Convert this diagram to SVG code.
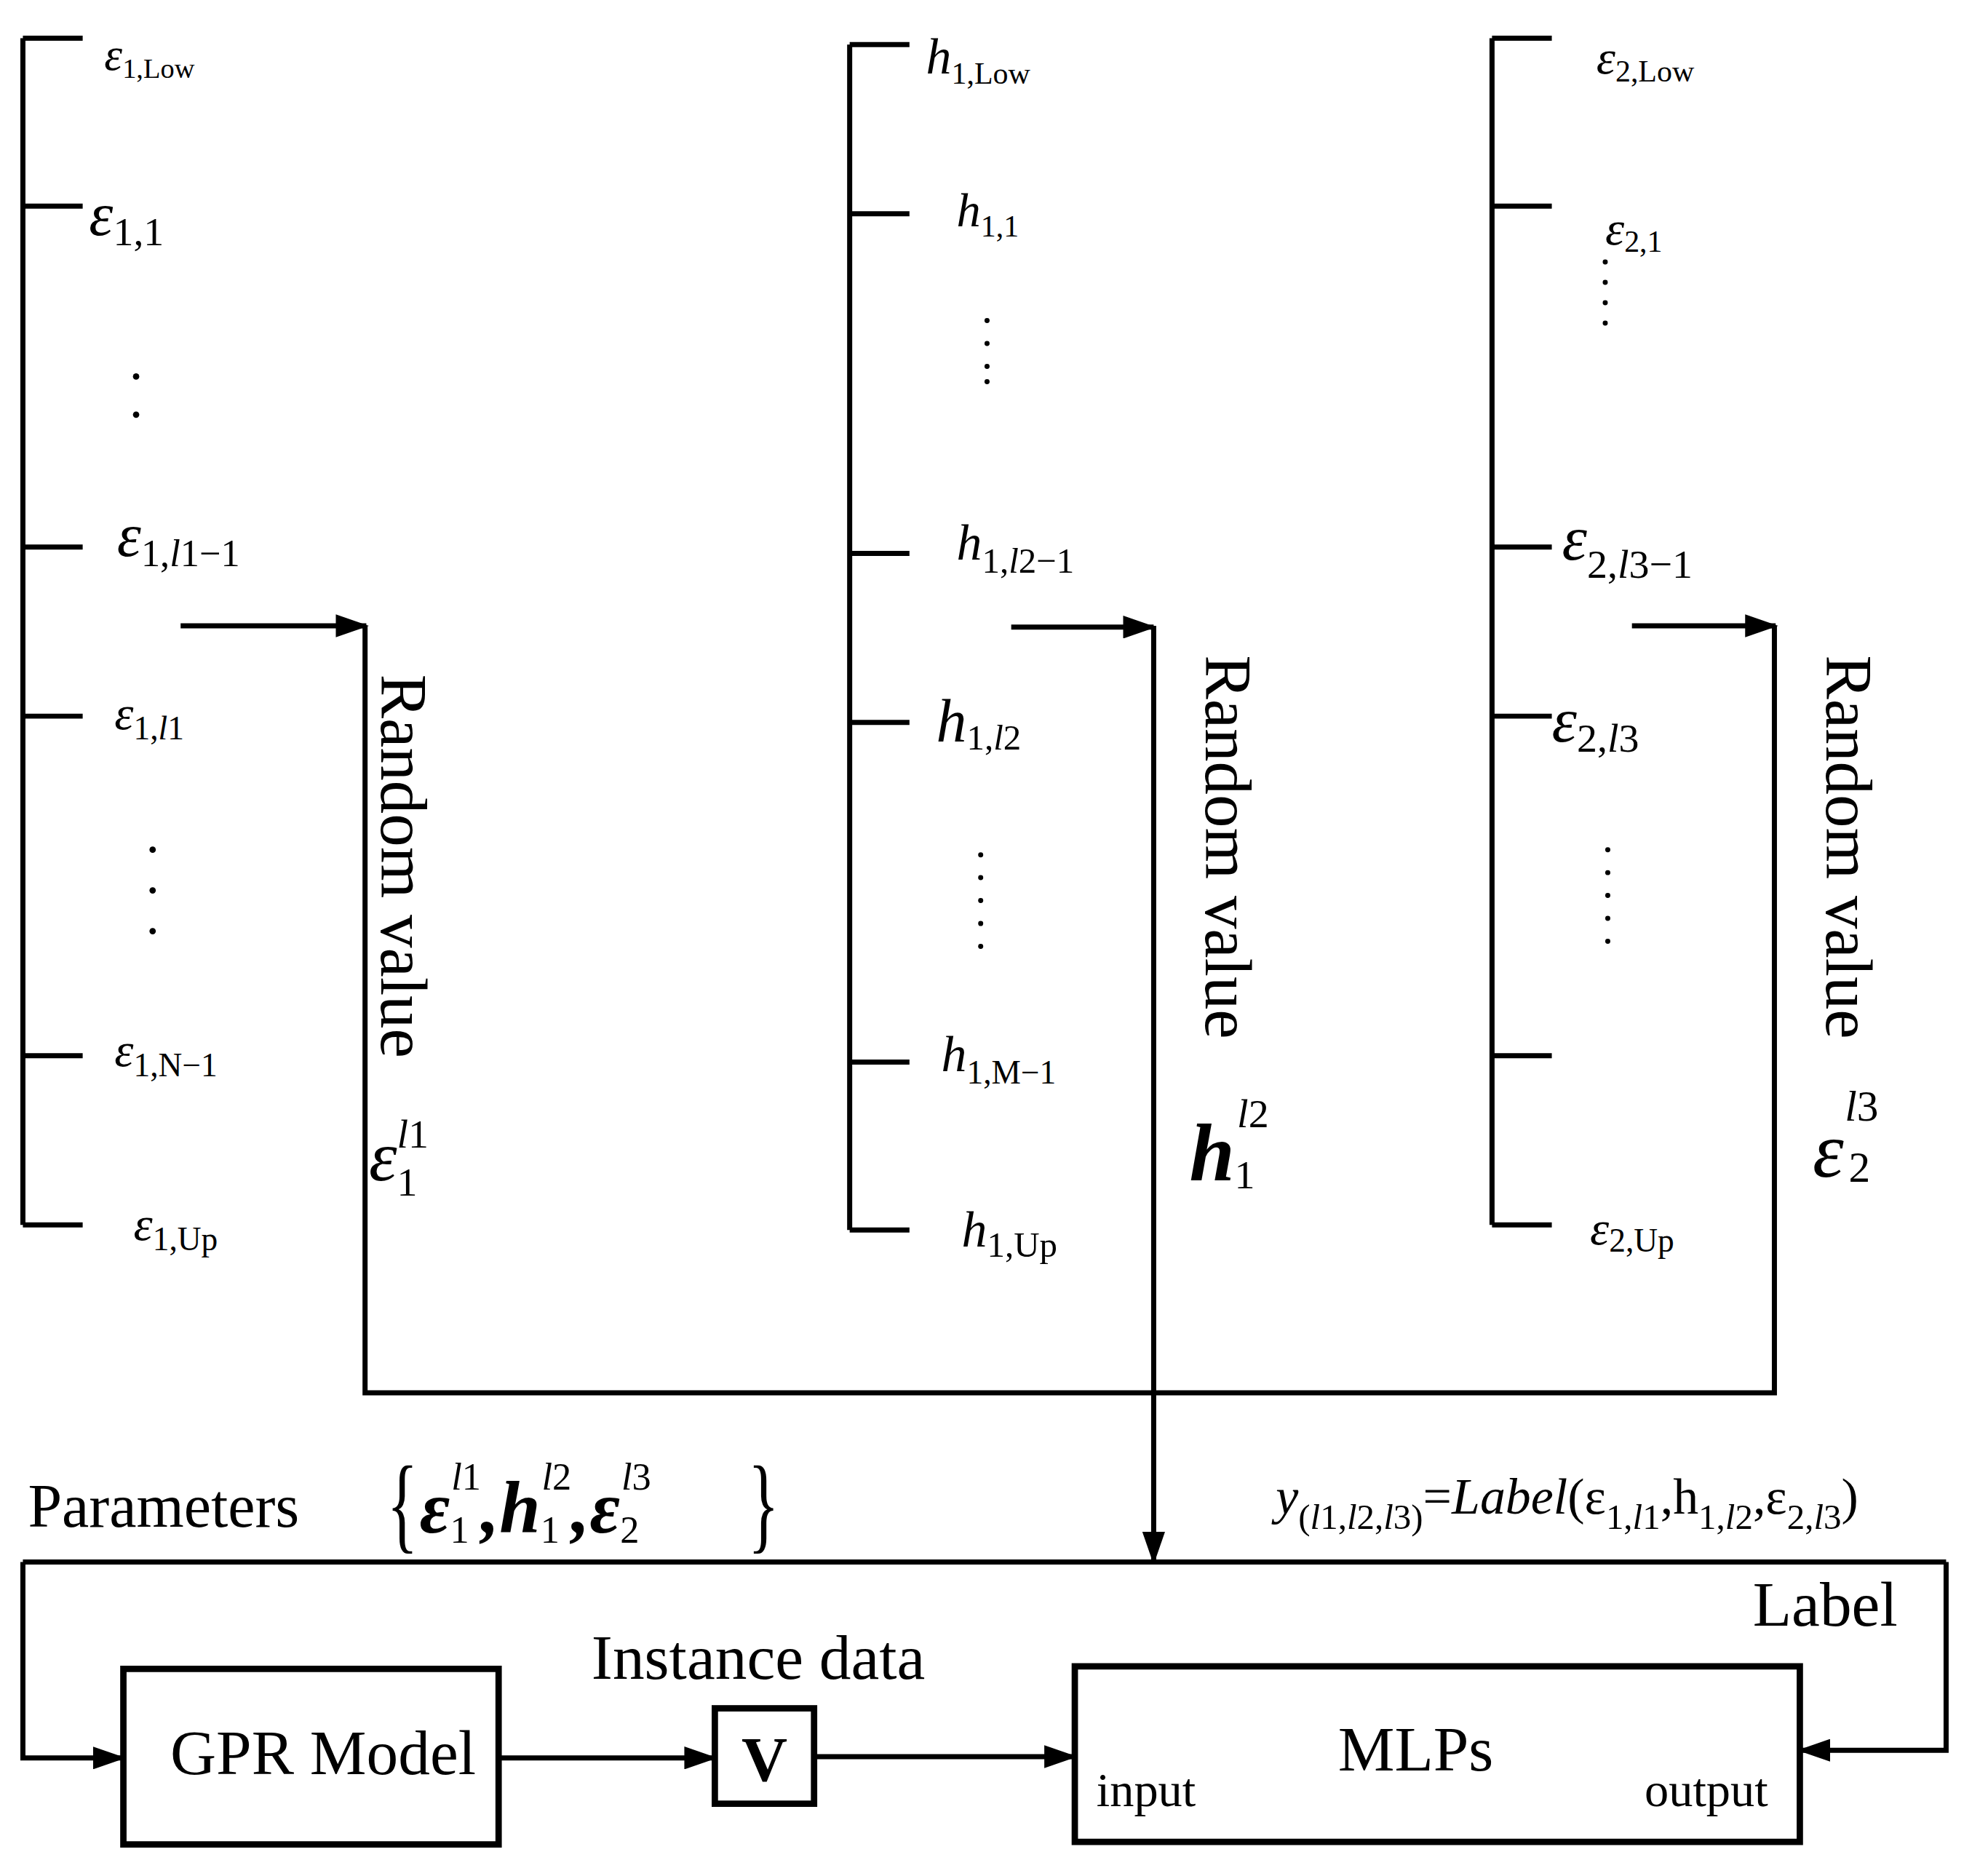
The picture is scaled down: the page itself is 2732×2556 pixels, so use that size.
<svg xmlns="http://www.w3.org/2000/svg" width="2732" height="2556" viewBox="0 0 2732 2556">
<defs>
<marker id="ah" markerWidth="26" markerHeight="18" refX="24" refY="9" orient="auto" markerUnits="userSpaceOnUse" viewBox="0 0 26 18"><path d="M0,0 L26,9 L0,18 z" fill="#000"/></marker>
<style>
.l{stroke:#000;stroke-width:4;fill:none}
.b{stroke:#000;stroke-width:5;fill:#fff}
.v{font-family:"Liberation Serif",serif;font-style:italic}
.s{font-style:normal}
.i{font-style:italic}
.t{font-family:"Liberation Serif",serif}
.d{fill:#000}
</style>
</defs>
<rect width="2732" height="2556" fill="#fff"/>
<g transform="scale(1.748)">
<g id="brackets">
<path class="l" d="M18,30V963M18,30H65M18,162H65M18,430H65M18,563H65M18,830H65M18,963H65"/>
<path class="l" d="M668,35V967M668,35H715M668,168H715M668,435H715M668,568H715M668,835H715M668,967H715"/>
<path class="l" d="M1173,30V963M1173,30H1220M1173,162H1220M1173,430H1220M1173,563H1220M1173,830H1220M1173,963H1220"/>
</g>
<g id="dots" class="d">
<circle cx="107" cy="296" r="2.5"/><circle cx="107" cy="326" r="2.5"/>
<circle cx="120" cy="668" r="2.5"/><circle cx="120" cy="700" r="2.5"/><circle cx="120" cy="732" r="2.5"/>
<circle cx="776" cy="252" r="2"/><circle cx="776" cy="270" r="2"/><circle cx="776" cy="288" r="2"/><circle cx="776" cy="300" r="2"/>
<circle cx="771" cy="672" r="2"/><circle cx="771" cy="690" r="2"/><circle cx="771" cy="708" r="2"/><circle cx="771" cy="726" r="2"/><circle cx="771" cy="744" r="2"/>
<circle cx="1262" cy="206" r="2"/><circle cx="1262" cy="222" r="2"/><circle cx="1262" cy="238" r="2"/><circle cx="1262" cy="254" r="2"/>
<circle cx="1264" cy="668" r="2"/><circle cx="1264" cy="686" r="2"/><circle cx="1264" cy="704" r="2"/><circle cx="1264" cy="722" r="2"/><circle cx="1264" cy="740" r="2"/>
</g>
<g id="labels">
<text x="82" y="55" class="v" style="font-size:36px">ε<tspan class="s" style="font-size:22px" dy="6">1,Low</tspan></text>
<text x="70" y="185" class="v" style="font-size:48px">ε<tspan class="s" style="font-size:32px" dy="8">1,1</tspan></text>
<text x="92" y="437" class="v" style="font-size:48px">ε<tspan class="s" style="font-size:30px" dy="8">1,<tspan class="i">l</tspan>1−1</tspan></text>
<text x="90" y="573" class="v" style="font-size:38px">ε<tspan class="s" style="font-size:26px" dy="8">1,<tspan class="i">l</tspan>1</tspan></text>
<text x="90" y="838" class="v" style="font-size:38px">ε<tspan class="s" style="font-size:26px" dy="8">1,N−1</tspan></text>
<text x="105" y="975" class="v" style="font-size:38px">ε<tspan class="s" style="font-size:26px" dy="8">1,Up</tspan></text>

<text x="728" y="58" class="v" style="font-size:40px">h<tspan class="s" style="font-size:24px" dy="8">1,Low</tspan></text>
<text x="752" y="178" class="v" style="font-size:38px">h<tspan class="s" style="font-size:24px" dy="8">1,1</tspan></text>
<text x="752" y="440" class="v" style="font-size:40px">h<tspan class="s" style="font-size:28px" dy="10">1,<tspan class="i">l</tspan>2−1</tspan></text>
<text x="736" y="583" class="v" style="font-size:48px">h<tspan class="s" style="font-size:28px" dy="6">1,<tspan class="i">l</tspan>2</tspan></text>
<text x="740" y="842" class="v" style="font-size:40px">h<tspan class="s" style="font-size:26px" dy="10">1,M−1</tspan></text>
<text x="756" y="980" class="v" style="font-size:40px">h<tspan class="s" style="font-size:28px" dy="8">1,Up</tspan></text>

<text x="1255" y="58" class="v" style="font-size:38px">ε<tspan class="s" style="font-size:24px" dy="6">2,Low</tspan></text>
<text x="1262" y="192" class="v" style="font-size:38px">ε<tspan class="s" style="font-size:24px" dy="6">2,1</tspan></text>
<text x="1228" y="440" class="v" style="font-size:50px">ε<tspan class="s" style="font-size:32px" dy="14">2,<tspan class="i">l</tspan>3−1</tspan></text>
<text x="1220" y="583" class="v" style="font-size:50px">ε<tspan class="s" style="font-size:32px" dy="8">2,<tspan class="i">l</tspan>3</tspan></text>
<text x="1250" y="978" class="v" style="font-size:38px">ε<tspan class="s" style="font-size:26px" dy="6">2,Up</tspan></text>

<text transform="translate(300,530) rotate(90)" class="t" style="font-size:52px">Random value</text>
<text transform="translate(948,515) rotate(90)" class="t" style="font-size:52px">Random value</text>
<text transform="translate(1436,515) rotate(90)" class="t" style="font-size:52px">Random value</text>
<text x="290" y="928" class="v" style="font-size:56px">ε<tspan class="s" style="font-size:32px" dy="12">1</tspan><tspan class="i" style="font-size:32px" dx="-16" dy="-38">l</tspan><tspan class="s" style="font-size:32px">1</tspan></text>
<text x="935" y="928" class="v" style="font-size:64px;font-weight:bold">h<tspan class="s" style="font-size:32px;font-weight:normal" dy="6">1</tspan><tspan class="i" style="font-size:32px;font-weight:normal" dx="-14" dy="-48">l</tspan><tspan class="s" style="font-size:32px;font-weight:normal">2</tspan></text>
<text x="1425" y="925" class="v" style="font-size:62px">ε<tspan class="s" style="font-size:34px" dx="4" dy="4">2</tspan><tspan class="i" style="font-size:34px" dx="-20" dy="-48">l</tspan><tspan class="s" style="font-size:34px">3</tspan></text>

<text x="22" y="1200" class="t" style="font-size:48px">Parameters</text>
<text transform="translate(304,1210) scale(0.8,1.3)" class="t" style="font-size:64px">{</text>
<text x="330" y="1205" class="v" style="font-size:58px;font-weight:bold">ε<tspan class="s" style="font-size:30px;font-weight:normal" dy="8">1</tspan><tspan class="i" style="font-size:30px;font-weight:normal" dx="-14" dy="-42">l</tspan><tspan class="s" style="font-size:30px;font-weight:normal">1</tspan><tspan dy="34">,h</tspan><tspan class="s" style="font-size:30px;font-weight:normal" dy="8">1</tspan><tspan class="i" style="font-size:30px;font-weight:normal" dx="-14" dy="-42">l</tspan><tspan class="s" style="font-size:30px;font-weight:normal">2</tspan><tspan dy="34">,ε</tspan><tspan class="s" style="font-size:30px;font-weight:normal" dy="8">2</tspan><tspan class="i" style="font-size:30px;font-weight:normal" dx="-14" dy="-42">l</tspan><tspan class="s" style="font-size:30px;font-weight:normal">3</tspan></text>
<text transform="translate(588,1210) scale(0.8,1.3)" class="t" style="font-size:64px">}</text>
<text x="1003" y="1190" class="v" style="font-size:40px">y<tspan class="s" style="font-size:28px" dy="12">(<tspan class="i">l</tspan>1,<tspan class="i">l</tspan>2,<tspan class="i">l</tspan>3)</tspan><tspan class="s" style="font-size:40px" dy="-12">=</tspan>Label<tspan class="s">(ε</tspan><tspan class="s" style="font-size:28px" dy="12">1,<tspan class="i">l</tspan>1</tspan><tspan class="s" dy="-12">,h</tspan><tspan class="s" style="font-size:28px" dy="12">1,<tspan class="i">l</tspan>2</tspan><tspan class="s" dy="-12">,ε</tspan><tspan class="s" style="font-size:28px" dy="12">2,<tspan class="i">l</tspan>3</tspan><tspan class="s" dy="-12">)</tspan></text>
<text x="1378" y="1278" class="t" style="font-size:50px">Label</text>
<text x="465" y="1320" class="t" style="font-size:50px">Instance data</text>
</g>
<g id="connectors">
<path class="l" d="M142,492H288" marker-end="url(#ah)"/>
<path class="l" d="M795,493H907" marker-end="url(#ah)"/>
<path class="l" d="M1283,492H1396" marker-end="url(#ah)"/>
<path class="l" d="M287,492V1095H1395V492"/>
<path class="l" d="M907,492V1228" marker-end="url(#ah)"/>
<path class="l" d="M18,1228H1530"/>
<path class="l" d="M18,1228V1382H97" marker-end="url(#ah)"/>
<path class="l" d="M1530,1228V1376H1415" marker-end="url(#ah)"/>
<path class="l" d="M392,1382H562" marker-end="url(#ah)"/>
<path class="l" d="M640,1381H845" marker-end="url(#ah)"/>
</g>
<g id="gpr"><rect class="b" x="97" y="1312" width="295" height="138"/><text x="254" y="1395" class="t" style="font-size:50px" text-anchor="middle">GPR Model</text></g>
<g id="v"><rect class="b" x="562" y="1343" width="78" height="75"/><text x="601" y="1400" class="t" style="font-size:50px;font-weight:bold" text-anchor="middle">V</text></g>
<g id="mlps"><rect class="b" x="845" y="1310" width="570" height="138"/><text x="1113" y="1392" class="t" style="font-size:50px" text-anchor="middle">MLPs</text><text x="862" y="1420" class="t" style="font-size:38px">input</text><text x="1390" y="1420" class="t" style="font-size:38px" text-anchor="end">output</text></g>
</g>
</svg>
